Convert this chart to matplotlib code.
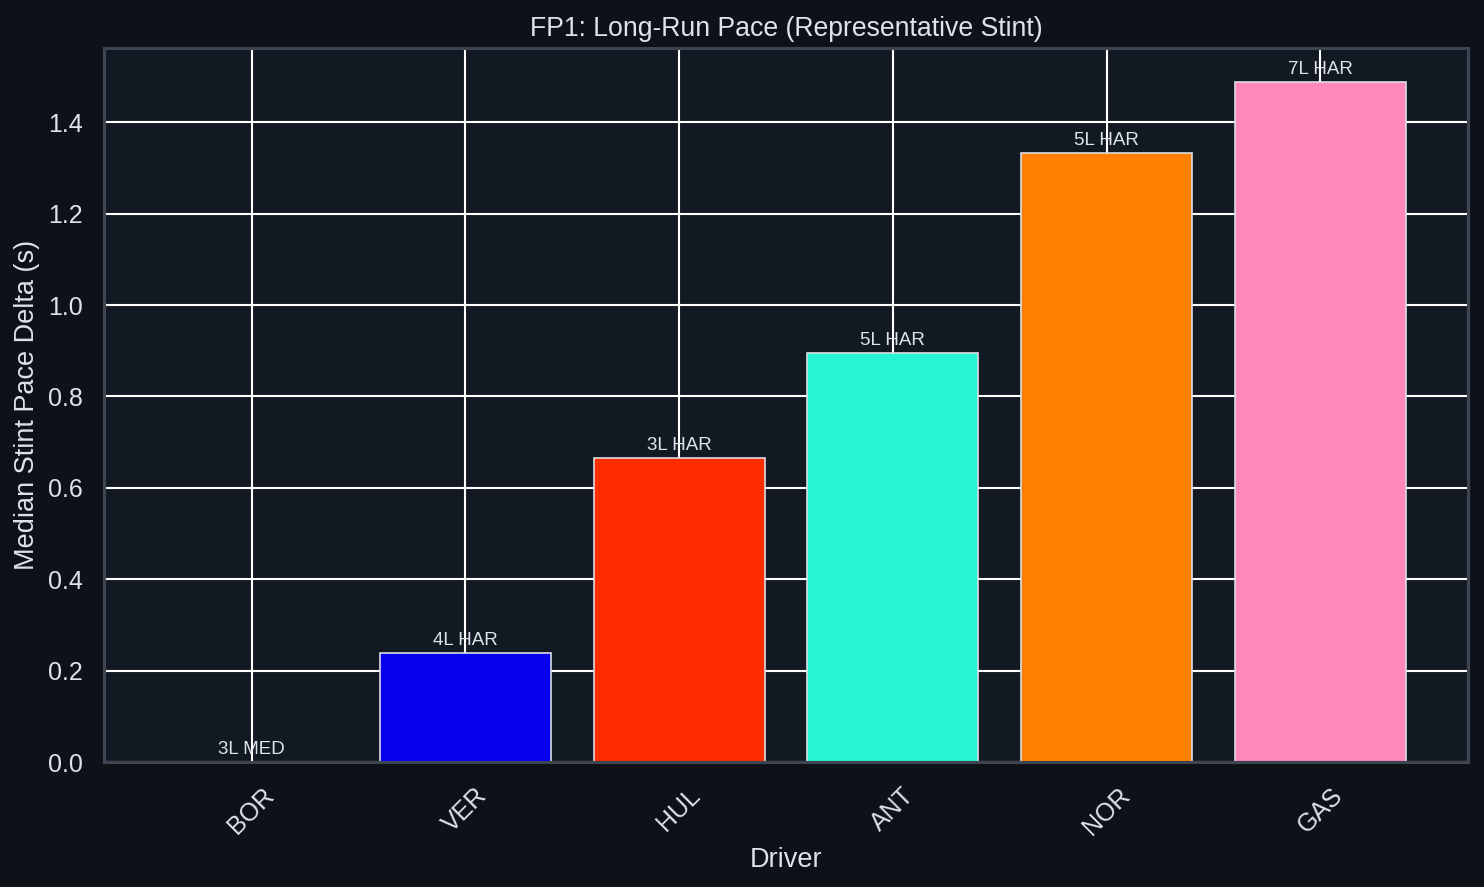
import matplotlib
matplotlib.use("Agg")
import matplotlib.pyplot as plt

drivers = ["BOR", "VER", "HUL", "ANT", "NOR", "GAS"]
deltas = [0.0, 0.238, 0.665, 0.895, 1.332, 1.488]
labels = ["3L MED", "4L HAR", "3L HAR", "5L HAR", "5L HAR", "7L HAR"]
colors = ["#52E252", "#0600EF", "#FF2D00", "#27F4D2", "#FF8000", "#FF87BC"]

plt.rcParams['font.family'] = ['Liberation Sans', 'DejaVu Sans']
fig_bg = "#0e1117"
ax_bg = "#131922"
txt = "#dde3ec"
spine = "#3d4552"

fig = plt.figure(figsize=(1484/150, 887/150), dpi=150, facecolor=fig_bg)
ax = fig.add_axes([104/1484, 1-762/887, (1468-104)/1484, (762-48)/887])
ax.set_facecolor(ax_bg)
ax.set_axisbelow(True)
ax.grid(True, color="white", linewidth=1.0)

bars = ax.bar(drivers, deltas, color=colors, edgecolor="#d8dde4", linewidth=0.8, width=0.8)
for b, lab in zip(bars, labels):
    ax.annotate(lab, (b.get_x()+b.get_width()/2, b.get_height()),
                xytext=(0, 2), textcoords="offset points",
                ha="center", va="bottom", fontsize=9, color=txt)

ax.set_title("FP1: Long-Run Pace (Representative Stint)", color=txt, fontsize=12.8, pad=6)
ax.set_xlabel("Driver", color=txt, fontsize=13)
ax.set_ylabel("Median Stint Pace Delta (s)", color=txt, fontsize=13)
ax.tick_params(colors=txt, labelsize=12, length=0, pad=10)
plt.setp(ax.get_xticklabels(), rotation=45)
for s in ax.spines.values():
    s.set_color(spine)
    s.set_linewidth(1.5)

fig.savefig("out.png", dpi=150, facecolor=fig_bg)
